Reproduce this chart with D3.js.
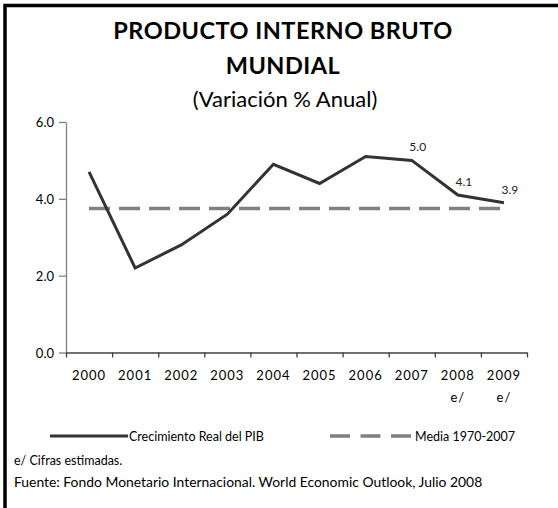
<!DOCTYPE html>
<html>
<head>
<meta charset="utf-8">
<script src="https://cdn.jsdelivr.net/npm/d3@7"></script>
<style>
body{margin:0;background:#fff}
svg{display:block;font-family:Lato,"DejaVu Sans",sans-serif}
</style>
</head>
<body>
<svg id="chart" width="558" height="508"></svg>
<script>
// datos
var years = ["2000","2001","2002","2003","2004","2005","2006","2007","2008","2009"]
var estimado = [false,false,false,false,false,false,false,false,true,true]
var pib = [4.7,2.2,2.8,3.6,4.9,4.4,5.1,5.0,4.1,3.9]
var media = 3.75
var etiquetas = [null,null,null,null,null,null,null,"5.0","4.1","3.9"]
var yTicks = [0,2,4,6]

var svg = d3.select("#chart")

// marco (cortado a la derecha y abajo)
svg.append("rect").attr("x",5).attr("y",5.5).attr("width",600).attr("height",600)
    .attr("fill","none").attr("stroke","#000").attr("stroke-width",3.5)

// titulo
svg.append("text").text("PRODUCTO INTERNO BRUTO").attr("x",283).attr("y",38.5)
    .attr("text-anchor","middle").attr("font-weight","bold").attr("font-size",23.5).attr("letter-spacing",0.5)
svg.append("text").text("MUNDIAL").attr("x",283).attr("y",73.5)
    .attr("text-anchor","middle").attr("font-weight","bold").attr("font-size",23.5).attr("letter-spacing",0.5)
svg.append("text").text("(Variación % Anual)").attr("x",285).attr("y",107)
    .attr("text-anchor","middle").attr("font-size",22)

var left = 66, right = 527
var x = d3.scaleBand().domain(years).range([left,right])
var xt = d3.scaleLinear().domain([0,years.length]).range([left,right])
var y = d3.scaleLinear().domain([0,6]).range([352.5,122])
function cx(i){return x(years[i])+x.bandwidth()/2}

// eje y
var yAxis = d3.axisLeft(y).tickValues(yTicks).tickFormat(d3.format(".1f")).tickSize(7).tickSizeOuter(0)
var gy = svg.append("g").attr("transform","translate("+left+",0)").call(yAxis)
gy.select(".domain").attr("stroke","#808080").attr("stroke-width",1.3)
gy.selectAll(".tick line").attr("stroke","#808080").attr("stroke-width",1.3)
gy.selectAll(".tick text").attr("font-size",13).attr("font-family","Lato").attr("fill","#000").attr("x",-12).attr("dy","0.35em")

// eje x
var xAxis = d3.axisBottom(xt).ticks(years.length).tickFormat("").tickSize(5).tickSizeOuter(0)
var gx = svg.append("g").attr("transform","translate(0,"+y(0)+")").call(xAxis)
gx.select(".domain").attr("stroke","#404040").attr("stroke-width",1.3)
gx.selectAll(".tick line").attr("stroke","#404040").attr("stroke-width",1.3)

var yl = svg.selectAll(".year").data(years).enter().append("text")
    .attr("class","year")
    .attr("x",function(d){return x(d)+x.bandwidth()/2})
    .attr("y",379.5)
    .attr("text-anchor","middle").attr("font-size",13).attr("letter-spacing",1)
yl.append("tspan").text(function(d){return d})
yl.filter(function(d,i){return estimado[i]}).append("tspan")
    .attr("x",function(d){return x(d)+x.bandwidth()/2}).attr("dy",22).text("e/")

// media 1970-2007
svg.append("line")
    .attr("x1",cx(0)).attr("x2",cx(years.length-1))
    .attr("y1",y(media)).attr("y2",y(media))
    .attr("stroke","#808080").attr("stroke-width",3.5).attr("stroke-dasharray","21,9")

// crecimiento real
var line = d3.line()
    .x(function(d,i){return cx(i)})
    .y(function(d){return y(d)})
svg.append("path").datum(pib).attr("d",line)
    .attr("fill","none").attr("stroke","#333").attr("stroke-width",3).attr("stroke-linejoin","miter")

var lblData = pib.map(function(v,i){return {v:v,i:i,t:etiquetas[i]}}).filter(function(d){return d.t})
svg.selectAll(".lbl").data(lblData).enter()
    .append("text").attr("class","lbl")
    .text(function(d){return d.t})
    .attr("x",function(d){return cx(d.i)+6})
    .attr("y",function(d){return y(d.v)-9})
    .attr("text-anchor","middle").attr("font-size",12).attr("fill","#222")

// leyenda
svg.append("line").attr("x1",50).attr("x2",128).attr("y1",436).attr("y2",436)
    .attr("stroke","#333").attr("stroke-width",3)
svg.append("text").text("Crecimiento Real del PIB").attr("x",129).attr("y",440.5).attr("font-size",12.5)
svg.append("line").attr("x1",330).attr("x2",412).attr("y1",436).attr("y2",436)
    .attr("stroke","#808080").attr("stroke-width",3.5).attr("stroke-dasharray","20,10.5")
svg.append("text").text("Media 1970-2007").attr("x",415).attr("y",441).attr("font-size",12.5)

// notas
svg.append("text").text("e/ Cifras estimadas.").attr("x",14).attr("y",465).attr("font-size",12.5)
svg.append("text").text("Fuente: Fondo Monetario Internacional. World Economic Outlook, Julio 2008")
    .attr("x",14).attr("y",486.5).attr("font-size",13.9)
</script>
</body>
</html>
